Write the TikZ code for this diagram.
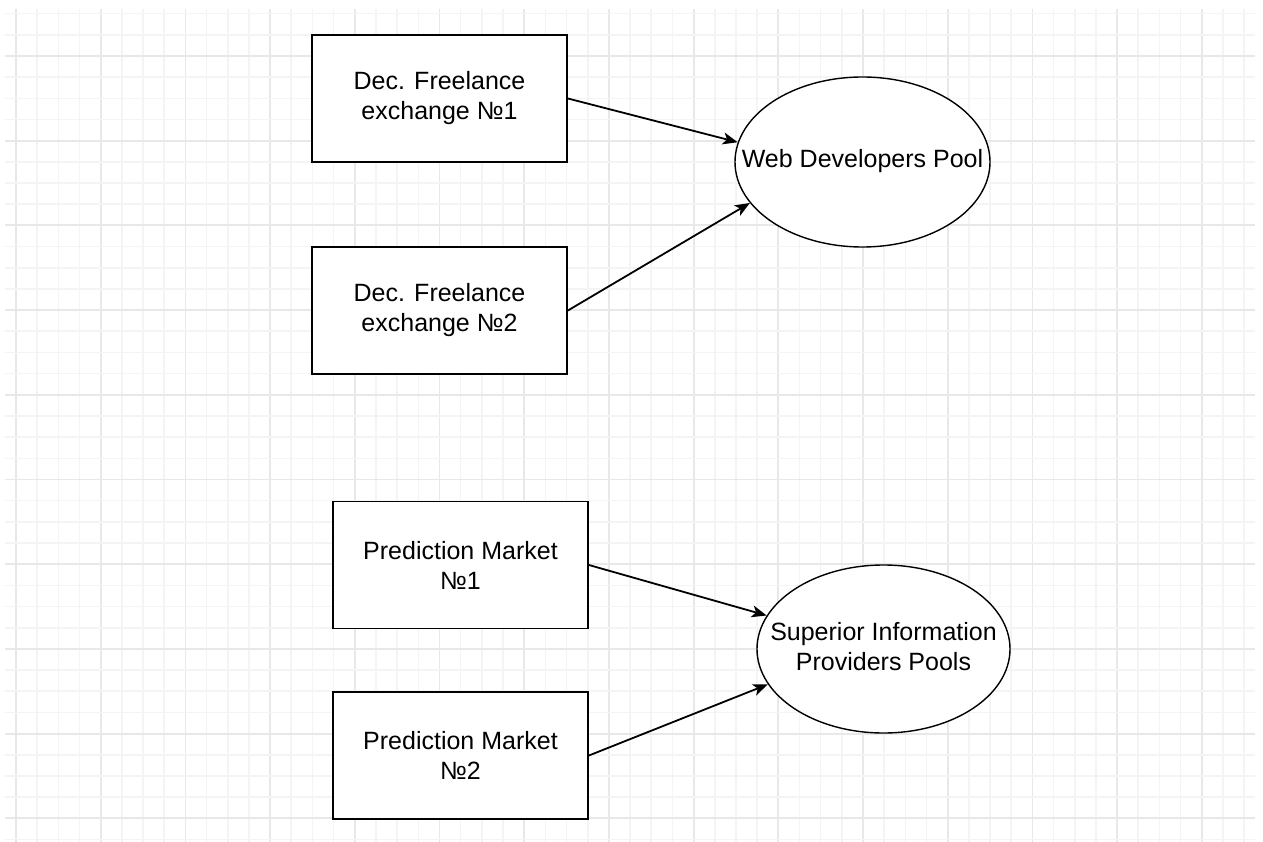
\documentclass[tikz,border=0pt]{standalone}
\usepackage{fontspec}
\setmainfont{Liberation Sans}
\usetikzlibrary{arrows.meta,shapes.geometric}
\definecolor{gridminor}{HTML}{F4F4F4}
\definecolor{gridmajor}{HTML}{E8E8E8}
\newcommand{\zw}[1]{\makebox[0pt]{\begin{tabular}{@{}c@{}}#1\end{tabular}}}
\tikzset{
  box/.style={draw=black, line width=1.8pt, fill=white, minimum width=255pt, minimum height=127pt, inner sep=0pt, align=center, font=\fontsize{25}{30}\selectfont},
  pool/.style={ellipse, draw=black, line width=1.4pt, fill=white, inner sep=0pt, align=center, font=\fontsize{25}{30}\selectfont},
  link/.style={draw=black, line width=1.8pt, -{Stealth[length=15pt,width=12pt,inset=4pt]}},
}
\begin{document}
\begin{tikzpicture}[x=1pt,y=-1pt]
\useasboundingbox (0,0) rectangle (1263,842);
\fill[white] (0,0) rectangle (1263,842);
% grid
\foreach \i in {0,...,58}{
  \pgfmathtruncatemacro{\m}{mod(\i,4)}
  \ifnum\m=0
    \draw[gridmajor, line width=1.8pt] ({16+21.175*\i},9) -- ({16+21.175*\i},842);
  \else
    \draw[gridminor, line width=1.6pt] ({16+21.175*\i},9) -- ({16+21.175*\i},842);
  \fi
}
\foreach \j in {-2,...,37}{
  \pgfmathtruncatemacro{\m}{mod(\j+8,4)}
  \ifnum\m=0
    \draw[gridmajor, line width=1.8pt] (5,{56+21.175*\j}) -- (1255,{56+21.175*\j});
  \else
    \draw[gridminor, line width=1.6pt] (5,{56+21.175*\j}) -- (1255,{56+21.175*\j});
  \fi
}
% nodes
\node[box] (b1) at (439.5,98.5) {Dec. Freelance\\exchange №1};
\node[box] (b2) at (439.5,310.5) {Dec. Freelance\\exchange №2};
\node[box] (b3) at (460.5,565) {Prediction Market\\№1};
\node[box] (b4) at (460.5,755.5) {Prediction Market\\№2};
\node[pool, minimum width=255pt, minimum height=170pt] (w) at (862.5,162) {\zw{Web Developers Pool}};
\node[pool, minimum width=253pt, minimum height=168pt] (s) at (883.5,649) {\zw{Superior Information\\Providers Pools}};
% connectors
\draw[link] (b1.east) -- (w.171);
\draw[link] (b2.east) -- (w.200.7);
\draw[link] (b3.east) -- (s.164.3);
\draw[link] (b4.east) -- (s.197.8);
\end{tikzpicture}
\end{document}
